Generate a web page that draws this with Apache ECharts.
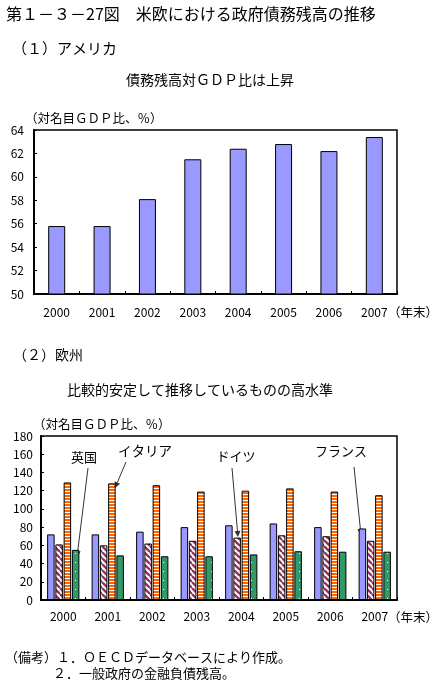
<!DOCTYPE html>
<html><head><meta charset="utf-8">
<script src="https://cdn.jsdelivr.net/npm/echarts@6/dist/echarts.min.js"></script>
<style>html,body{margin:0;padding:0;background:#fff}#c{width:441px;height:685px}</style>
</head><body><div id="c"></div>
<script>
var years = ['2000','2001','2002','2003','2004','2005','2006','2007'];
var usTicks = [50, 64, 2];
var euTicks = [0, 180, 20];
var usDebt = [55.8, 55.8, 58.1, 61.5, 62.4, 62.8, 62.2, 63.4];
var france = [72, 72, 75, 80, 82, 84, 80, 78.5];
var germany = [61, 60, 62, 65, 68.5, 71, 70, 65];
var italy = [129, 128, 126, 119, 120, 122.5, 119, 115];
var uk = [55, 49, 48, 48, 50, 53.5, 53, 53];

var FONT = '"Noto Sans CJK JP", sans-serif';

function mk(w, h, draw) { var c = document.createElement('canvas'); c.width = w; c.height = h; draw(c.getContext('2d')); return c; }
var hatchPat = mk(6, 6, function (g) {
  g.fillStyle = '#fff'; g.fillRect(0, 0, 6, 6);
  g.strokeStyle = '#993366'; g.lineWidth = 2.4;
  for (var k = -1; k <= 1; k++) { g.beginPath(); g.moveTo(k * 6, 0); g.lineTo(k * 6 + 6, 6); g.stroke(); }
});
var stripePat = mk(3, 3, function (g) {
  g.fillStyle = '#FF6600'; g.fillRect(0, 0, 3, 3);
  g.fillStyle = '#fff'; g.fillRect(0, 2, 3, 1);
});
var dotPat = mk(8, 9, function (g) {
  g.fillStyle = '#339966'; g.fillRect(0, 0, 8, 9);
  g.fillStyle = '#fff'; g.fillRect(3, 4, 1, 1);
});

function txt(x, y, s, size, align) {
  return { type: 'text', x: x, y: y, style: { text: s, fill: '#000', font: size + 'px ' + FONT, textAlign: align || 'left', textVerticalAlign: 'middle' } };
}
function arrow(x1, y1, x2, y2) {
  var a = Math.atan2(y2 - y1, x2 - x1), L = 6, W = 3;
  var bx = x2 - L * Math.cos(a), by = y2 - L * Math.sin(a);
  var px = -Math.sin(a) * W, py = Math.cos(a) * W;
  return [
    { type: 'line', shape: { x1: x1, y1: y1, x2: bx, y2: by }, style: { stroke: '#333', lineWidth: 1 } },
    { type: 'polygon', shape: { points: [[x2, y2], [bx + px, by + py], [bx - px, by - py]] }, style: { fill: '#333' } }
  ];
}

var axisLbl = { color: '#000', fontSize: 12, fontFamily: FONT };
var graphics = [
  txt(6, 14, '第１－３－27図　米欧における政府債務残高の推移', 16),
  txt(12, 48, '（１）アメリカ', 15),
  txt(210, 80, '債務残高対ＧＤＰ比は上昇', 14, 'center'),
  txt(25, 118, '（対名目ＧＤＰ比、％）', 12.5),
  txt(388, 312, '（年末）', 12.5),
  txt(13, 355, '（２）欧州', 14),
  txt(200, 390, '比較的安定して推移しているものの高水準', 14, 'center'),
  txt(33, 424, '（対名目ＧＤＰ比、％）', 12.5),
  txt(388, 617, '（年末）', 12.5),
  txt(84, 457, '英国', 13, 'center'),
  txt(145, 451, 'イタリア', 13.5, 'center'),
  txt(236, 456, 'ドイツ', 13, 'center'),
  txt(341, 451, 'フランス', 13, 'center'),
  txt(5, 657, '（備考）１．ＯＥＣＤデータベースにより作成。', 13),
  txt(53, 673, '２．一般政府の金融負債残高。', 13)
].concat(arrow(88, 468, 77, 557), arrow(126, 462, 115, 488), arrow(232, 468, 238, 537), arrow(354, 467, 361, 535));

function yAx(t, gi, margin) {
  return { type: 'value', gridIndex: gi, min: t[0], max: t[1], interval: t[2],
    axisLine: { show: true, lineStyle: { color: '#000', width: 2 } },
    axisTick: { show: true, inside: true, length: 3, lineStyle: { color: '#000' } },
    axisLabel: Object.assign({ margin: margin }, axisLbl), splitLine: { show: false } };
}
function xAx(gi, margin) {
  return { type: 'category', gridIndex: gi, data: years,
    axisLine: { show: true, lineStyle: { color: '#000', width: 2 } },
    axisTick: { show: true, inside: true, length: 3, lineStyle: { color: '#000' } },
    axisLabel: Object.assign({ margin: margin }, axisLbl) };
}
var bd = { borderColor: '#000', borderWidth: 1 };
function euBar(name, data, color) {
  return { type: 'bar', name: name, xAxisIndex: 1, yAxisIndex: 1, data: data, barWidth: 7.5, barGap: '10%',
    itemStyle: Object.assign({ color: color }, bd), animation: false };
}
var chart = echarts.init(document.getElementById('c'));
chart.setOption({
  animation: false,
  grid: [
    { left: 34, right: 44, top: 130, height: 164, show: true, borderColor: '#000', borderWidth: 1.5 },
    { left: 41, right: 44, top: 436, height: 164, show: true, borderColor: '#000', borderWidth: 1.5 }
  ],
  xAxis: [xAx(0, 12), xAx(1, 10)],
  yAxis: [yAx(usTicks, 0, 10), yAx(euTicks, 1, 8)],
  series: [
    { type: 'bar', xAxisIndex: 0, yAxisIndex: 0, data: usDebt, barWidth: 17, itemStyle: Object.assign({ color: '#9999FF' }, bd) },
    euBar('フランス', france, '#9999FF'),
    euBar('ドイツ', germany, { image: hatchPat, repeat: 'repeat' }),
    euBar('イタリア', italy, { image: stripePat, repeat: 'repeat' }),
    euBar('英国', uk, { image: dotPat, repeat: 'repeat' })
  ],
  graphic: graphics
});
</script></body></html>
